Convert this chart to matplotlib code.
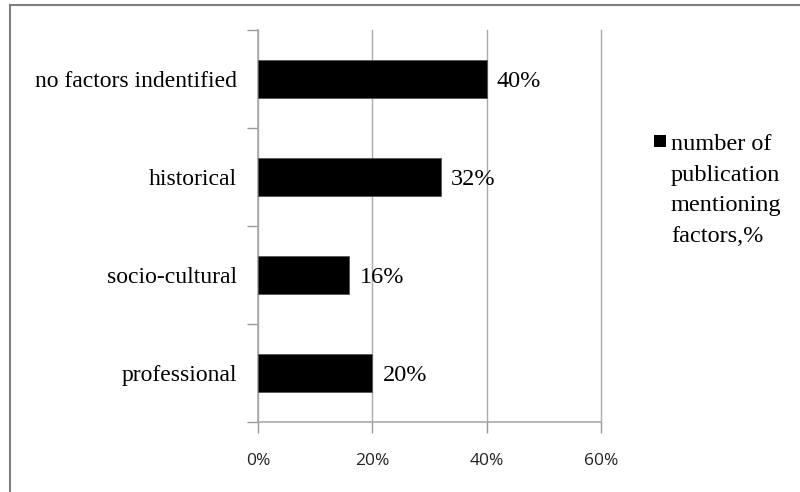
import matplotlib
matplotlib.use("Agg")
import matplotlib.pyplot as plt
from matplotlib.lines import Line2D
from matplotlib.patches import Rectangle

categories = ["professional", "socio-cultural", "historical", "no factors indentified"]
values = [20, 16, 32, 40]
xticks = [0, 20, 40, 60]
xtick_labels = ["0%", "20%", "40%", "60%"]
legend_label = "number of\npublication\nmentioning\nfactors,%"

serif = ["Liberation Serif", "DejaVu Serif"]
sans = ["Open Sans", "DejaVu Sans"]

fig = plt.figure(figsize=(8, 4.92), dpi=100)
ax = fig.add_axes([258/800, 1-422/492, (601-258)/800, (422-30)/492])

ypos = list(range(len(categories)))
ax.barh(ypos, values, height=0.39, color="black", edgecolor="#555555", linewidth=0.6, zorder=3)

ax.set_xlim(0, 60)
ax.set_ylim(-0.5, len(categories) - 0.5)
ax.set_xticks(xticks)
ax.set_xticklabels(xtick_labels, fontfamily=sans, fontsize=12.5, color="#222222")
ax.set_yticks([i - 0.5 for i in range(len(categories) + 1)])
ax.set_yticklabels([])
ax.set_yticks(ypos, minor=True)
ax.set_yticklabels(categories, minor=True, fontfamily=serif, fontsize=17)
ax.tick_params(axis="y", which="minor", length=0, pad=15)
ax.tick_params(axis="y", which="major", length=8, color="#999999", width=1)
ax.tick_params(axis="x", length=8, color="#999999", width=1, pad=14)

for s in ["top", "right"]:
    ax.spines[s].set_visible(False)
for s in ["left", "bottom"]:
    ax.spines[s].set_color("#aaaaaa")
    ax.spines[s].set_linewidth(1.2)
ax.grid(axis="x", color="#aaaaaa", linewidth=1, zorder=0)
for gl in ax.get_xgridlines():
    gl.set_clip_on(False)
ax.set_axisbelow(True)

for y, v in zip(ypos, values):
    ax.text(v + 1.8, y, f"{v}%", va="center_baseline", ha="left", fontfamily=serif, fontsize=17.5, zorder=4)

# legend
fig.patches.append(Rectangle((654/800, 1-147/492), 12/800, 12/492, transform=fig.transFigure,
                             facecolor="black", edgecolor="none"))
fig.text(671/800, 1-134/492, legend_label, ha="left", va="top", fontfamily=serif,
         fontsize=17.5, linespacing=1.6)

# chart frame
fig.lines.append(Line2D([10/800, 10/800], [0, 1-5/492], transform=fig.transFigure, color="#808080", linewidth=1.5))
fig.lines.append(Line2D([10/800, 1], [1-5/492, 1-5/492], transform=fig.transFigure, color="#808080", linewidth=1.5))

fig.savefig("out.png", dpi=100)
